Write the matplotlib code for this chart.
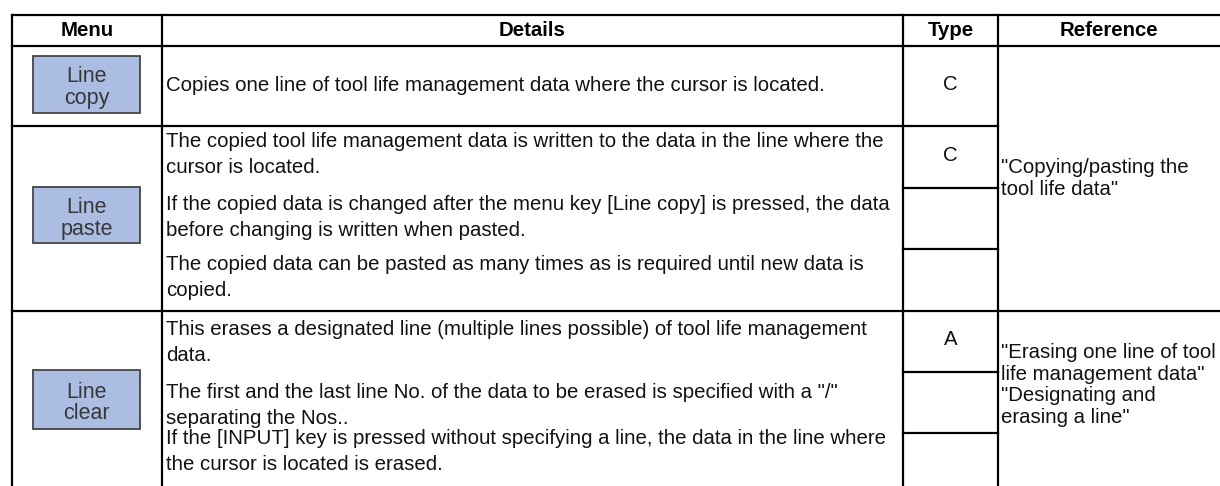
import matplotlib
matplotlib.use("Agg")
import matplotlib.pyplot as plt
from matplotlib.patches import Rectangle

plt.rcParams['font.family'] = ['Liberation Sans', 'DejaVu Sans']

# table content
headers = ["Menu", "Details", "Type", "Reference"]
menu_keys = ["Line\ncopy", "Line\npaste", "Line\nclear"]
type_marks = ["C", "C", "A"]
details = [
    [["Copies one line of tool life management data where the cursor is located."]],
    [["The copied tool life management data is written to the data in the line where the",
      "cursor is located."],
     ["If the copied data is changed after the menu key [Line copy] is pressed, the data",
      "before changing is written when pasted."],
     ["The copied data can be pasted as many times as is required until new data is",
      "copied."]],
    [["This erases a designated line (multiple lines possible) of tool life management",
      "data."],
     ["The first and the last line No. of the data to be erased is specified with a \"/\"",
      "separating the Nos.."],
     ["If the [INPUT] key is pressed without specifying a line, the data in the line where",
      "the cursor is located is erased."]],
]
references = [
    ["\"Copying/pasting the", "tool life data\""],
    ["\"Erasing one line of tool", "life management data\"", "\"Designating and",
     "erasing a line\""],
]

# layout (pixels)
W, H = 1220, 486
col_x = [12, 162, 903, 998, 1220]
row_y = [15, 46, 126, 311, 500]
type_splits = [188, 249, 372, 433]
button_rows = [(56, 113), (187, 243), (370, 429)]
detail_baselines = [[91], [147, 210, 270], [335, 398, 444]]
type_baselines = [90, 161, 345]
ref_baselines = [173, 358]
FS = 14.7
FS_REF = 14.7
FS_KEY = 15.5
LINE_STEP = 25.5
REF_STEP = 21.7
LW = 1.6

fig = plt.figure(figsize=(W / 100, H / 100), dpi=100)
ax = fig.add_axes([0, 0, 1, 1])
ax.set_xlim(0, W)
ax.set_ylim(H, 0)
ax.axis("off")

# grid lines
for x in col_x[:4]:
    ax.plot([x, x], [row_y[0], row_y[-1]], color="black", lw=LW, solid_capstyle="projecting")
ax.plot([col_x[0], W], [row_y[0], row_y[0]], color="black", lw=LW)
ax.plot([col_x[0], W], [row_y[1], row_y[1]], color="black", lw=LW)
ax.plot([col_x[0], col_x[3]], [row_y[2], row_y[2]], color="black", lw=LW)
ax.plot([col_x[0], W], [row_y[3], row_y[3]], color="black", lw=LW)
for y in type_splits:
    ax.plot([col_x[2], col_x[3]], [y, y], color="black", lw=LW)

# headers
for i, h in enumerate(headers):
    ax.text((col_x[i] + col_x[i + 1]) / 2, 36, h, ha="center", va="baseline",
            fontsize=FS_REF, fontweight="bold", color="black")

# menu key buttons
for label, (y0, y1) in zip(menu_keys, button_rows):
    ax.add_patch(Rectangle((33, y0), 107, y1 - y0, facecolor="#abbde3",
                           edgecolor="#454545", lw=1.3))
    yc = (y0 + y1) / 2
    top, bottom = label.split("\n")
    ax.text(86.5, yc - 2, top, ha="center", va="baseline", fontsize=FS_KEY, color="#383838")
    ax.text(86.5, yc + 19.5, bottom, ha="center", va="baseline", fontsize=FS_KEY, color="#383838")

# details paragraphs
for paras, bases in zip(details, detail_baselines):
    for lines, b in zip(paras, bases):
        for k, line in enumerate(lines):
            ax.text(166, b + k * LINE_STEP, line, ha="left", va="baseline",
                    fontsize=FS, color="#111111")

# type marks
for mark, b in zip(type_marks, type_baselines):
    ax.text((col_x[2] + col_x[3]) / 2, b, mark, ha="center", va="baseline",
            fontsize=FS_REF, color="#111111")

# references
for lines, b in zip(references, ref_baselines):
    for k, line in enumerate(lines):
        ax.text(1001, b + k * REF_STEP, line, ha="left", va="baseline",
                fontsize=FS_REF, color="#111111")

fig.savefig("out.png", dpi=100, facecolor="white")
